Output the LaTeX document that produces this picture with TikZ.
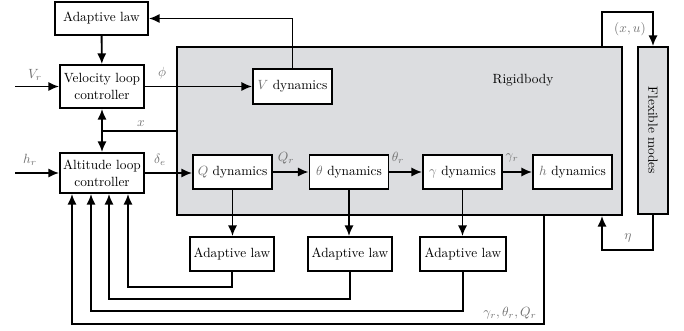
\documentclass[tikz,border=0pt]{standalone}
\usetikzlibrary{arrows.meta}
\definecolor{bodygray}{HTML}{DCDDE0}
\definecolor{lblgray}{HTML}{707070}
\newcommand{\gv}[1]{\textcolor{lblgray}{$#1$}}
\begin{document}
\begin{tikzpicture}[x=0.75pt,y=-0.75pt,line width=1.4pt,
	>={Latex[length=8pt,width=7pt]},
	every node/.style = {font=\fontsize{10}{12.5}\selectfont},
	block/.style = {draw, fill=white, align=center, inner sep=0pt,
		minimum width=59.25pt, minimum height=25.5pt},
	lbl/.style = {text=lblgray, inner sep=0pt}]
	\useasboundingbox (0,0) rectangle (684,331);
	% rigid body and flexible modes
	\node (rigid) [draw, fill=bodygray, minimum width=333.75pt, minimum height=126pt] at (399.5,131) {};
	\node (rigidlbl) at (523,80) {Rigidbody};
	\node (flex) [draw, fill=bodygray, minimum width=22.5pt, minimum height=125.25pt] at (653,130.5) {};
	\node (flexlbl) [rotate=-90] at (flex.center) {Flexible modes};
	% controllers
	\node (adV) [block, minimum width=69.75pt, minimum height=24.75pt] at (101.5,18.5) {Adaptive law};
	\node (vel) [block, minimum width=63pt, minimum height=32.25pt] at (102,86.5) {Velocity loop\\controller};
	\node (alt) [block, minimum width=63pt, minimum height=30pt] at (102,173) {Altitude loop\\controller};
	% dynamics
	\node (Vdyn) [block, minimum height=26.25pt] at (292.5,86.5) {\gv{V} dynamics};
	\node (Qdyn) [block] at (232.5,172) {\gv{Q} dynamics};
	\node (thdyn) [block] at (349,172) {\gv{\theta} dynamics};
	\node (gadyn) [block] at (462.5,172) {\gv{\gamma} dynamics};
	\node (hdyn) [block] at (572.5,172) {\gv{h} dynamics};
	% adaptive laws
	\node (adQ) [block, minimum width=63pt] at (232,254) {Adaptive law};
	\node (adth) [block, minimum width=63pt] at (350,254) {Adaptive law};
	\node (adga) [block, minimum width=64.5pt] at (463,254) {Adaptive law};
	% inputs
	\coordinate (vin) at (15,86.5);
	\coordinate (hin) at (15,173);
	\coordinate (xj) at (102,131);
	\draw[->] (vin) -- (vel.west);
	\draw[->] (hin) -- (alt.west);
	\draw[->] (vel.east) -- (Vdyn.west);
	\draw[->] (Vdyn.north) |- (adV.east);
	\draw[->] (adV) -- (vel);
	\draw (rigid.west |- xj) -- (xj);
	\draw[->] (xj) -- (vel.south);
	\draw[->] (xj) -- (alt.north);
	\draw[->] (alt.east) -- (alt.east -| Qdyn.west);
	\draw[->] (Qdyn) -- (thdyn);
	\draw[->] (thdyn) -- (gadyn);
	\draw[->] (gadyn) -- (hdyn);
	\draw[->] (Qdyn) -- (Qdyn |- adQ.north);
	\draw[->] (thdyn) -- (thdyn |- adth.north);
	\draw[->] (gadyn) -- (gadyn |- adga.north);
	% feedback
	\draw[->] (adQ.south) -- ++(0,15) -| ([xshift=19.5pt]alt.south);
	\draw[->] (adth.south) -- ++(0,27) -| ([xshift=5.25pt]alt.south);
	\draw[->] (adga.south) -- ++(0,39) -| ([xshift=-8.25pt]alt.south);
	\draw[->] ([xshift=108.375pt]rigid.south) -- ++(0,108) -| ([xshift=-22.5pt]alt.south);
	\draw[->] ([xshift=151.875pt]rigid.north) -- ++(0,-34) -| (flex.north);
	\draw[->] (flex.south) -- ++(0,35) -| ([xshift=151.875pt]rigid.south);
	% signal labels
	\node[lbl] at (35,75) {$V_r$};
	\node[lbl] at (30,160) {$h_r$};
	\node[lbl] at (162,73) {$\phi$};
	\node[lbl] at (141,124) {$x$};
	\node[lbl] at (160,160) {$\delta_e$};
	\node[lbl] at (286,158) {$Q_r$};
	\node[lbl] at (398,158) {$\theta_r$};
	\node[lbl] at (512,158) {$\gamma_r$};
	\node[lbl] at (630,29) {$(x,u)$};
	\node[lbl] at (628,238) {$\eta$};
	\node[lbl] at (510,313) {$\gamma_r,\theta_r,Q_r$};
\end{tikzpicture}
\end{document}
